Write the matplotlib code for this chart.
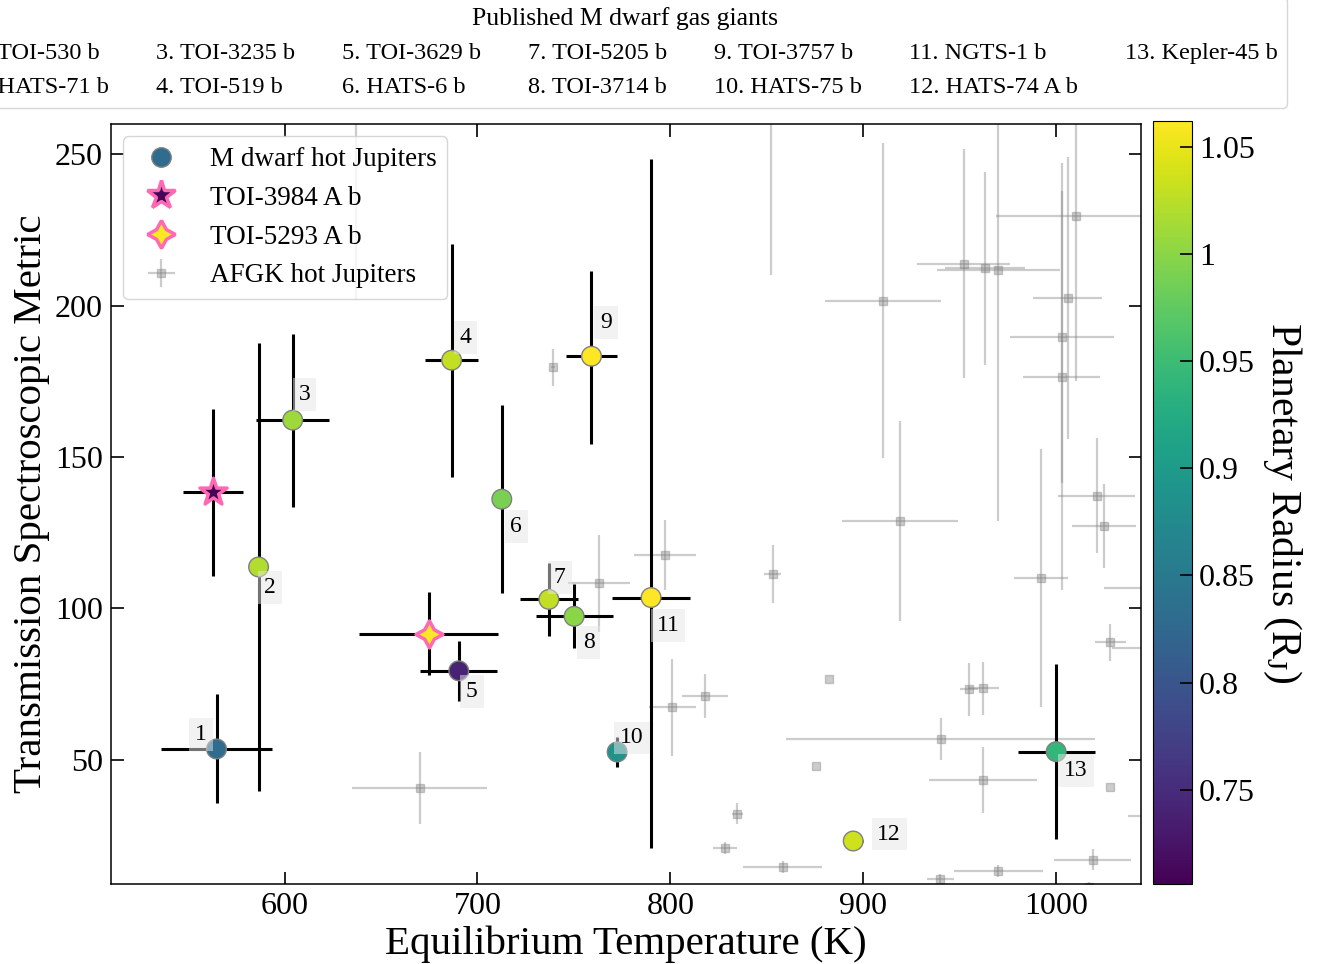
import matplotlib
matplotlib.use('Agg')
import matplotlib.pyplot as plt
import numpy as np
from matplotlib.colors import Normalize
from matplotlib.lines import Line2D
from matplotlib.cm import ScalarMappable

plt.rcParams['font.family'] = ['Liberation Serif', 'DejaVu Serif']
plt.rcParams['mathtext.fontset'] = 'custom'
plt.rcParams['mathtext.rm'] = 'Liberation Serif'
plt.rcParams['mathtext.it'] = 'Liberation Serif:italic'

# ---------------- data ----------------
md_names = ['TOI-530 b', 'HATS-71 b', 'TOI-3235 b', 'TOI-519 b', 'TOI-3629 b', 'HATS-6 b',
            'TOI-5205 b', 'TOI-3714 b', 'TOI-3757 b', 'HATS-75 b', 'NGTS-1 b', 'HATS-74 A b',
            'Kepler-45 b']
md_teq = [564.7, 586.5, 604.2, 686.6, 690.3, 712.6, 737.0, 750.1, 759.1, 772.4, 790.0, 894.8, 1000.0]
md_teq_err = [29, 3, 19, 13.8, 20, 3, 15, 20, 13, 3, 20, 5, 20]
md_tsm = [53.6, 113.7, 162.2, 182.0, 79.4, 136.1, 103.0, 97.4, 183.3, 52.6, 103.6, 23.2, 52.7]
md_tsm_err_lo = [18, 74, 28.6, 38.5, 10, 31, 12, 10.6, 29, 4.8, 82.7, 0.5, 29]
md_tsm_err_hi = [18, 74, 28.6, 38.5, 10, 31, 12, 10.6, 28, 4.8, 145.0, 0.5, 29]
md_radius = [0.83, 1.02, 1.01, 1.03, 0.74, 0.99, 1.03, 1.00, 1.07, 0.884, 1.33, 1.035, 0.94]

toi3984_teq, toi3984_teq_err = 562.8, 15.6
toi3984_tsm, toi3984_tsm_err = 138.3, 27.6
toi3984_radius = 0.71

toi5293_teq, toi5293_teq_err = 674.7, 36
toi5293_tsm, toi5293_tsm_err = 91.6, 13.7
toi5293_radius = 1.06

afgk_teq = [670.0, 739.2, 762.9, 797.1, 853.0, 801.1, 817.9, 882.0, 875.5, 940.2,
            834.8, 828.3, 858.2, 939.8, 962.0, 919.1, 992.2, 952.1, 963.2, 970.1,
            1010.2, 910.1, 1005.9, 1003.0, 1003.0, 852.1, 1021.1, 1025.0, 1055.0, 1028.0,
            1050.0, 1060.0, 1028.0, 954.9, 962.3, 1019.0, 970.1, 1017.0, 637.2]
afgk_teq_err = [35, 1, 16, 16, 4.5, 12, 12, 0, 0, 80,
                3, 6, 20.5, 7, 28, 30, 14, 24, 20.6, 32,
                41.6, 30, 18, 27, 20, 3, 20, 16.6, 30, 8,
                21, 22.5, 0, 4.7, 8, 20, 23, 5, 2]
afgk_tsm = [40.7, 179.6, 108.3, 117.7, 111.3, 67.4, 71.0, 76.7, 48.0, 56.8,
            32.2, 21.0, 14.5, 10.8, 43.4, 128.9, 110.0, 213.9, 212.3, 211.8,
            229.6, 201.7, 202.6, 189.6, 176.5, 290.0, 137.2, 127.2, 106.7, 88.8,
            87.1, 31.5, 40.9, 73.3, 73.6, 17.0, 13.2, 8.0, 290.0]
afgk_tsm_err = [12, 6, 16, 11.5, 9.5, 16, 7.3, 0, 0, 7,
                3.5, 2, 2, 1.5, 11, 33, 42.6, 37.7, 32, 83,
                54.5, 52, 46.6, 48.3, 70.5, 80, 19, 13.8, 10, 6,
                10, 5, 0, 8.7, 8.7, 3.5, 2, 1.5, 88]

label_offsets = [(-15.5, -14.5), (11.5, 20.5), (12, -26), (14, -22.5), (13, 20.5),
                 (14.5, 27.5), (11, -21.5), (14.5, 26.5), (14.3, -34), (15, -14),
                 (17, 28), (36, -7), (20, 19)]

xticks = [600, 700, 800, 900, 1000]
yticks = [50, 100, 150, 200, 250]
cticks = [0.75, 0.8, 0.85, 0.9, 0.95, 1.0, 1.05]

# ---------------- figure ----------------
W, H = 1328, 964
fig = plt.figure(figsize=(W / 100, H / 100), dpi=100)
ax = fig.add_axes([111 / W, 80 / H, 1030 / W, 760 / H])
cax = fig.add_axes([1153 / W, 80 / H, 39 / W, 763 / H])

cmap = plt.get_cmap('viridis')
norm = Normalize(0.706, 1.062)

afgk = ax.errorbar(afgk_teq, afgk_tsm, xerr=afgk_teq_err, yerr=afgk_tsm_err, fmt='s',
                   color='gray', ms=5.5, elinewidth=1.6, alpha=0.4, zorder=1)

ax.errorbar(md_teq, md_tsm, xerr=md_teq_err, yerr=[md_tsm_err_lo, md_tsm_err_hi], fmt='none',
            ecolor='k', elinewidth=2.2, zorder=2)
ax.scatter(md_teq, md_tsm, c=md_radius, cmap=cmap, norm=norm, s=200,
           edgecolors='#808080', linewidths=1.0, zorder=3)

ax.errorbar([toi3984_teq], [toi3984_tsm], xerr=[toi3984_teq_err], yerr=[toi3984_tsm_err],
            fmt='none', ecolor='k', elinewidth=2.2, zorder=2)
ax.scatter([toi3984_teq], [toi3984_tsm], c=[toi3984_radius], cmap=cmap, norm=norm, marker='*',
           s=420, edgecolors='#ff69b4', linewidths=2.5, zorder=4)

ax.errorbar([toi5293_teq], [toi5293_tsm], xerr=[toi5293_teq_err], yerr=[toi5293_tsm_err],
            fmt='none', ecolor='k', elinewidth=2.2, zorder=2)
ax.scatter([toi5293_teq], [toi5293_tsm], c=[toi5293_radius], cmap=cmap, norm=norm,
           marker=(4, 1, 0), s=380, edgecolors='#ff69b4', linewidths=2.5, zorder=4)

for i, (x, y) in enumerate(zip(md_teq, md_tsm)):
    dx, dy = label_offsets[i]
    ax.annotate(str(i + 1), (x, y), xytext=(dx, -dy), textcoords='offset pixels',
                ha='center', va='center', fontsize=17, zorder=5,
                bbox=dict(boxstyle='square,pad=0.25', fc='#e6e6e6', ec='none', alpha=0.5))

ax.set_xlim(510, 1044)
ax.set_ylim(9, 260)
ax.set_xticks(xticks)
ax.set_yticks(yticks)
ax.tick_params(direction='in', top=True, right=True, length=9, width=1.2,
               labelsize=23, pad=6)
for s in ax.spines.values():
    s.set_linewidth(1.1)
ax.set_xlabel('Equilibrium Temperature (K)', fontsize=29.5, labelpad=3)
ax.set_ylabel('Transmission Spectroscopic Metric', fontsize=29.5, labelpad=3)

h1 = Line2D([], [], marker='o', ls='none', ms=14, mfc=cmap(norm(0.83)), mec='#808080')
h2 = Line2D([], [], marker='*', ls='none', ms=21, mfc=cmap(norm(toi3984_radius)),
            mec='#ff69b4', mew=2.5)
h3 = Line2D([], [], marker=(4, 1, 0), ls='none', ms=20, mfc=cmap(norm(toi5293_radius)),
            mec='#ff69b4', mew=2.5)
ax.legend([h1, h2, h3, afgk],
          ['M dwarf hot Jupiters', 'TOI-3984 A b', 'TOI-5293 A b', 'AFGK hot Jupiters'],
          loc='upper left', fontsize=19.5, labelspacing=0.51, borderaxespad=0.45)

sm = ScalarMappable(norm=norm, cmap=cmap)
cb = fig.colorbar(sm, cax=cax)
cb.set_ticks(cticks)
cb.set_ticklabels(['%g' % t for t in cticks])
cax.tick_params(direction='in', length=9, width=1.2, labelsize=23, pad=5)
cb.set_label('Planetary Radius (R$_\\mathrm{J}$)', rotation=270, fontsize=30, labelpad=35)

blank = [Line2D([], [], ls='none') for _ in md_names]
labels = ['%d. %s' % (i + 1, n) for i, n in enumerate(md_names)]
fig.legend(blank, labels, ncol=7, loc='lower right',
           bbox_to_anchor=(1287 / W, 1 - 108 / H), borderaxespad=0, fontsize=17.5,
           title='Published M dwarf gas giants', title_fontsize=18.5,
           handlelength=0, handletextpad=0, columnspacing=1.93, labelspacing=0.5)

fig.savefig('out.png', dpi=100)
